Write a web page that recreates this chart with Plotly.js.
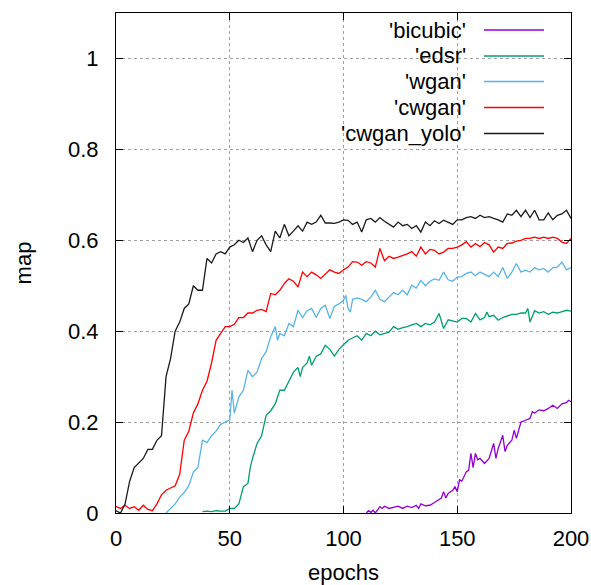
<!DOCTYPE html>
<html>
<head>
<meta charset="utf-8">
<script src="https://cdn.plot.ly/plotly-3.0.1.min.js"></script>
<style>html,body{margin:0;padding:0;background:#fff}#chart{width:591px;height:585px}</style>
</head>
<body>
<div id="chart"></div>
<script>
// ---- data ----
const seriesNames = ["'bicubic'", "'edsr'", "'wgan'", "'cwgan'", "'cwgan_yolo'"];

const yoloEpochs = [0,2,4,6,8,10,12,14,16,18,20,22,24,26,28,30,32,34,36,38,40,42,44,46,48,50,52,54,56,58,60,62,64,66,68,70,72,74,76,78,80,82,84,86,88,90,92,94,96,98,100,102,104,106,108,110,112,114,116,118,120,122,124,126,128,130,132,134,136,138,140,142,144,146,148,150,152,154,156,158,160,162,164,166,168,170,172,174,176,178,180,182,184,186,188,190,192,194,196,198,200];
const yoloMap = [0.005,0.0,0.02,0.07,0.10,0.11,0.12,0.14,0.14,0.16,0.17,0.30,0.34,0.40,0.42,0.45,0.46,0.50,0.49,0.49,0.56,0.55,0.57,0.575,0.57,0.585,0.59,0.60,0.595,0.605,0.575,0.60,0.61,0.59,0.575,0.62,0.605,0.635,0.61,0.62,0.632,0.62,0.64,0.635,0.64,0.655,0.638,0.638,0.637,0.64,0.645,0.644,0.635,0.64,0.618,0.645,0.648,0.64,0.65,0.642,0.635,0.629,0.64,0.632,0.635,0.626,0.632,0.618,0.64,0.632,0.643,0.637,0.644,0.64,0.635,0.645,0.645,0.65,0.652,0.648,0.655,0.65,0.652,0.648,0.645,0.64,0.658,0.655,0.666,0.652,0.666,0.65,0.666,0.645,0.645,0.66,0.645,0.655,0.658,0.666,0.648];

const cwganEpochs = [0,2,4,6,8,10,12,14,16,18,20,22,24,26,28,30,32,34,36,38,40,42,44,46,48,50,52,54,56,58,60,62,64,66,68,70,72,74,76,78,80,82,84,86,88,90,92,94,96,98,100,102,104,106,108,110,112,114,116,118,120,122,124,126,128,130,132,134,136,138,140,142,144,146,148,150,152,154,156,158,160,162,164,166,168,170,172,174,176,178,180,182,184,186,188,190,192,194,196,198,200];
const cwganMap = [0.014,0.01,0.017,0.01,0.014,0.006,0.017,0.008,0.005,0.02,0.04,0.05,0.055,0.06,0.085,0.16,0.18,0.22,0.24,0.27,0.29,0.33,0.38,0.395,0.41,0.41,0.415,0.43,0.43,0.44,0.44,0.446,0.448,0.443,0.483,0.48,0.49,0.505,0.515,0.51,0.497,0.53,0.52,0.53,0.524,0.516,0.525,0.535,0.53,0.527,0.535,0.541,0.553,0.552,0.545,0.553,0.55,0.541,0.582,0.555,0.565,0.56,0.563,0.566,0.57,0.575,0.565,0.585,0.57,0.58,0.578,0.57,0.574,0.582,0.582,0.585,0.59,0.597,0.585,0.593,0.586,0.595,0.59,0.574,0.585,0.582,0.593,0.594,0.598,0.6,0.604,0.604,0.607,0.604,0.607,0.604,0.607,0.604,0.596,0.593,0.604];

const wganEpochs = [22,24,26,28,30,32,34,36,38,40,42,44,46,48,50,51,52,54,56,58,60,62,64,66,68,70,71,72,74,76,78,80,82,84,86,88,90,92,94,96,98,100,101,102,103,104,106,108,110,112,114,116,118,120,122,124,126,128,130,132,134,136,138,140,142,144,146,148,150,152,154,156,158,160,162,164,166,168,170,172,174,176,178,180,182,184,186,188,190,192,194,196,198,200];
const wganMap = [0.0,0.01,0.02,0.035,0.045,0.06,0.09,0.10,0.16,0.155,0.17,0.18,0.195,0.2,0.205,0.27,0.22,0.255,0.27,0.314,0.30,0.31,0.34,0.355,0.388,0.41,0.38,0.395,0.39,0.417,0.41,0.446,0.43,0.445,0.45,0.43,0.45,0.457,0.428,0.455,0.46,0.468,0.479,0.45,0.442,0.47,0.473,0.47,0.465,0.475,0.49,0.47,0.465,0.475,0.485,0.48,0.49,0.48,0.501,0.495,0.512,0.5,0.51,0.515,0.512,0.53,0.513,0.51,0.519,0.52,0.527,0.53,0.522,0.53,0.525,0.52,0.53,0.52,0.54,0.516,0.53,0.549,0.53,0.534,0.53,0.54,0.535,0.538,0.53,0.54,0.541,0.552,0.535,0.54];

const edsrEpochs = [38,40,42,44,46,48,50,52,54,56,58,59,60,62,64,66,68,70,72,74,76,78,80,81,82,84,85,86,88,90,92,94,96,98,100,102,104,106,108,110,112,114,116,118,120,122,124,126,128,130,132,134,136,138,140,142,144,146,148,150,152,154,156,158,160,162,163,164,166,168,170,172,174,176,178,180,181,182,184,186,188,190,192,194,196,198,200];
const edsrMap = [0.003,0.004,0.003,0.005,0.004,0.004,0.01,0.01,0.02,0.058,0.065,0.1,0.12,0.153,0.17,0.215,0.225,0.24,0.27,0.27,0.29,0.31,0.32,0.30,0.32,0.33,0.345,0.325,0.345,0.35,0.369,0.36,0.345,0.36,0.37,0.38,0.385,0.39,0.38,0.395,0.39,0.4,0.392,0.395,0.398,0.41,0.404,0.408,0.41,0.414,0.417,0.41,0.417,0.414,0.42,0.439,0.406,0.425,0.423,0.42,0.428,0.428,0.42,0.439,0.425,0.43,0.442,0.432,0.435,0.424,0.43,0.434,0.437,0.437,0.44,0.44,0.45,0.42,0.445,0.44,0.443,0.437,0.442,0.44,0.443,0.446,0.444];

const bicubicEpochs = [110,111,112,113,114,116,117,118,120,122,124,126,128,130,132,133,134,136,138,140,142,143,144,145,146,148,149,150,151,152,154,155,156,157,158,159,160,162,164,165,166,167,168,170,171,172,174,175,176,177,178,180,182,183,184,186,188,190,192,194,196,198,199,200];
const bicubicMap = [0.0,0.005,0.001,0.006,0.0,0.014,0.01,0.015,0.01,0.012,0.015,0.01,0.015,0.012,0.017,0.01,0.02,0.016,0.017,0.023,0.031,0.033,0.047,0.033,0.043,0.05,0.058,0.047,0.073,0.07,0.091,0.094,0.131,0.1,0.131,0.117,0.12,0.109,0.12,0.138,0.153,0.12,0.142,0.171,0.135,0.149,0.16,0.182,0.164,0.182,0.2,0.204,0.208,0.223,0.22,0.227,0.225,0.23,0.237,0.23,0.24,0.243,0.248,0.245];

const xTickVals = [0, 50, 100, 150, 200];
const yTickVals = [0, 0.2, 0.4, 0.6, 0.8, 1];
const yTickText = ["0", "0.2", "0.4", "0.6", "0.8", "1"];
const xTitle = "epochs";
const yTitle = "map";

// ---- styling ----
const colors = ["#9400D3", "#009E73", "#56B4E9", "#FF0000", "#1a1a1a"];
const xs = [bicubicEpochs, edsrEpochs, wganEpochs, cwganEpochs, yoloEpochs];
const ys = [bicubicMap, edsrMap, wganMap, cwganMap, yoloMap];
const FONT = "Liberation Sans, Arial, sans-serif";

const traces = seriesNames.map((n, i) => ({
  x: xs[i], y: ys[i], name: n, type: "scatter", mode: "lines",
  line: {color: colors[i], width: 1.3}, showlegend: false, hoverinfo: "skip"
}));

// legend drawn gnuplot-style (text right-aligned, sample to the right)
const legX = 0.7736, lineX0 = 0.8088, lineX1 = 0.9407;
const legY = [0.966, 0.914, 0.863, 0.811, 0.759];
const annotations = seriesNames.map((n, i) => ({
  xref: "paper", yref: "paper", x: legX, y: legY[i], xanchor: "right", yanchor: "middle",
  text: n, showarrow: false, font: {family: FONT, size: 22, color: "#000"}
}));
const shapes = [{
  type: "rect", xref: "paper", yref: "paper", x0: 0.42, x1: 0.998, y0: 0.731, y1: 0.998,
  fillcolor: "#fff", line: {width: 0}, layer: "between"
}].concat(seriesNames.map((n, i) => ({
  type: "line", xref: "paper", yref: "paper", x0: lineX0, x1: lineX1, y0: legY[i], y1: legY[i],
  line: {color: colors[i], width: 1.3}
})));

const axisCommon = {
  showline: true, linecolor: "#000", linewidth: 1, mirror: "ticks",
  ticks: "inside", ticklen: 7, tickcolor: "#000", tickwidth: 1,
  showgrid: true, gridcolor: "#a0a0a0", griddash: "dot", gridwidth: 1,
  zeroline: false, tickfont: {family: FONT, size: 22, color: "#000"}
};

const layout = {
  width: 591, height: 585,
  margin: {l: 116, r: 20, t: 13, b: 72},
  paper_bgcolor: "#fff", plot_bgcolor: "#fff",
  font: {family: FONT, size: 22, color: "#000"},
  xaxis: Object.assign({}, axisCommon, {
    range: [0, 200], tickmode: "array", tickvals: xTickVals, ticklabelstandoff: 6,
    title: {text: xTitle, font: {family: FONT, size: 22, color: "#000"}, standoff: 15}
  }),
  yaxis: Object.assign({}, axisCommon, {
    range: [0, 1.1], tickmode: "array", tickvals: yTickVals, ticktext: yTickText, ticklabelstandoff: 12,
    title: {text: yTitle, font: {family: FONT, size: 22, color: "#000"}, standoff: 30}
  }),
  annotations: annotations,
  shapes: shapes
};

Plotly.newPlot("chart", traces, layout, {staticPlot: true, displayModeBar: false});
</script>
</body>
</html>
